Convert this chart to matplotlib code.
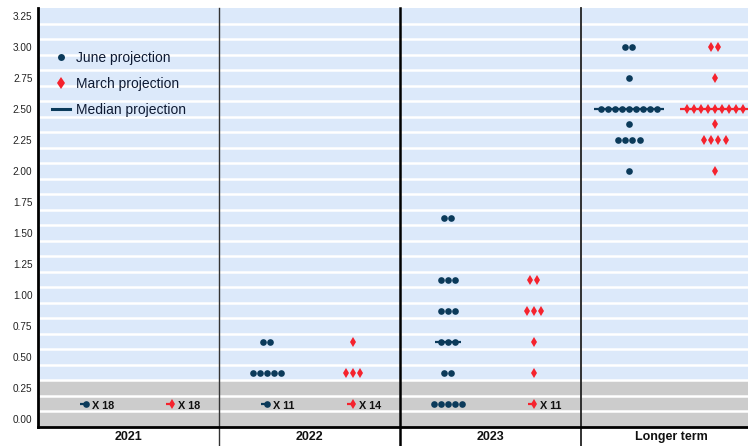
import matplotlib
matplotlib.use("Agg")
import matplotlib.pyplot as plt
from matplotlib.lines import Line2D

plt.rcParams['font.family'] = ['Liberation Sans', 'DejaVu Sans']

# ---- data ----
panels = ["2021", "2022", "2023", "Longer term"]

june_2021_rates = [0.125]
june_2021_counts = [18]
june_2022_rates = [0.125, 0.375, 0.625]
june_2022_counts = [11, 5, 2]
june_2023_rates = [0.125, 0.375, 0.625, 0.875, 1.125, 1.625]
june_2023_counts = [5, 2, 3, 3, 3, 2]
june_lt_rates = [2.0, 2.25, 2.375, 2.5, 2.75, 3.0]
june_lt_counts = [1, 4, 1, 9, 1, 2]

march_2021_rates = [0.125]
march_2021_counts = [18]
march_2022_rates = [0.125, 0.375, 0.625]
march_2022_counts = [14, 3, 1]
march_2023_rates = [0.125, 0.375, 0.625, 0.875, 1.125]
march_2023_counts = [11, 1, 1, 3, 2]
march_lt_rates = [2.0, 2.25, 2.375, 2.5, 2.75, 3.0]
march_lt_counts = [1, 4, 1, 9, 1, 2]

june_medians = [0.125, 0.125, 0.625, 2.5]
march_medians = [0.125, 0.125, 0.125, 2.5]

ytick_vals = [0.0, 0.25, 0.5, 0.75, 1.0, 1.25, 1.5, 1.75, 2.0, 2.25, 2.5, 2.75, 3.0, 3.25]
ytick_labels = ["0.00", "0.25", "0.50", "0.75", "1.00", "1.25", "1.50", "1.75",
                "2.00", "2.25", "2.50", "2.75", "3.00", "3.25"]

june_sets = [(june_2021_rates, june_2021_counts), (june_2022_rates, june_2022_counts),
             (june_2023_rates, june_2023_counts), (june_lt_rates, june_lt_counts)]
march_sets = [(march_2021_rates, march_2021_counts), (march_2022_rates, march_2022_counts),
              (march_2023_rates, march_2023_counts), (march_lt_rates, march_lt_counts)]

# ---- style ----
JUNE_C = "#0b3a5a"
MARCH_C = "#f5222d"
BLUE_BG = "#dce9fa"
GRAY_BG = "#cccccc"
SPACING = 0.039
COLLAPSE = 10

fig = plt.figure(figsize=(7.48, 4.46), dpi=100)
ax = fig.add_axes([38 / 748, 19 / 446, 1 - 38 / 748, (427 - 8) / 446])
ax.set_xlim(0, 710 / 181)
ax.set_ylim(-0.0625, 3.3125)

ax.axhspan(-0.0625, 0.3125, color=GRAY_BG, zorder=0, lw=0)
ax.axhspan(0.3125, 3.3125, color=BLUE_BG, zorder=0, lw=0)
y = 0.0625
while y < 3.3:
    ax.axhline(y, color="white", lw=1.8, zorder=1)
    y += 0.125


def draw_group(i, center, rates, counts, median, color, marker, ms, mew):
    for r, n in zip(rates, counts):
        if n >= COLLAPSE:
            if abs(r - median) < 1e-9:
                ax.plot([center - 0.035, center + 0.012], [r, r], color=color, lw=1.6, zorder=3,
                        solid_capstyle="butt")
            ax.plot([center], [r], marker=marker, color=color, ms=ms, mew=mew, ls="none", zorder=4)
            ax.text(center + 0.035, r - 0.02, f"X {n}", fontsize=7.8, fontweight="bold",
                    color="#111111", va="center", ha="left", zorder=5)
        else:
            xs = [center + (k - (n - 1) / 2) * SPACING for k in range(n)]
            if abs(r - median) < 1e-9:
                ax.plot([xs[0] - 0.035, xs[-1] + 0.035], [r, r], color=color, lw=1.6, zorder=3,
                        solid_capstyle="butt")
            ax.plot(xs, [r] * n, marker=marker, color=color, ms=ms, mew=mew, ls="none", zorder=4)


for i in range(4):
    jr, jc = june_sets[i]
    mr, mc = march_sets[i]
    draw_group(i, i + 0.265, jr, jc, june_medians[i], JUNE_C, "o", 4.8, 0)
    draw_group(i, i + 0.74, mr, mc, march_medians[i], MARCH_C, "d", 5.4, 0)

# separators
for xv, lw, col in [(1, 1.0, "#333333"), (2, 1.8, "#000000"), (3, 1.3, "#222222")]:
    ax.plot([xv, xv], [-0.0625 - 19 / 124, 3.3125], color=col, lw=lw, clip_on=False, zorder=6)

for s in ["top", "right"]:
    ax.spines[s].set_visible(False)
ax.spines["left"].set_linewidth(2.0)
ax.spines["bottom"].set_linewidth(2.0)
ax.spines["left"].set_zorder(7)
ax.spines["bottom"].set_zorder(7)

ax.set_yticks(ytick_vals)
ax.set_yticklabels(ytick_labels)
ax.tick_params(axis="y", length=0, pad=4, labelsize=7.2, labelcolor="#222222")
ax.set_xticks([])

for i, name in enumerate(panels):
    ax.text(i + 0.5, -0.0625 - 10 / 124, name, ha="center", va="center", fontsize=9,
            fontweight="bold", color="#111111", clip_on=False)

handles = [
    Line2D([], [], marker="o", color=JUNE_C, ls="none", ms=5, mew=0),
    Line2D([], [], marker="d", color=MARCH_C, ls="none", ms=6.5, mew=0),
    Line2D([], [], color=JUNE_C, lw=2.2),
]
leg = ax.legend(handles, ["June projection", "March projection", "Median projection"],
                loc="upper left", bbox_to_anchor=(0.012, 0.91), frameon=False,
                fontsize=10, handlelength=1.3, handletextpad=0.45, labelspacing=0.85,
                borderaxespad=0)
for t in leg.get_texts():
    t.set_color("#0e1a33")

fig.savefig("out.png", dpi=100)
